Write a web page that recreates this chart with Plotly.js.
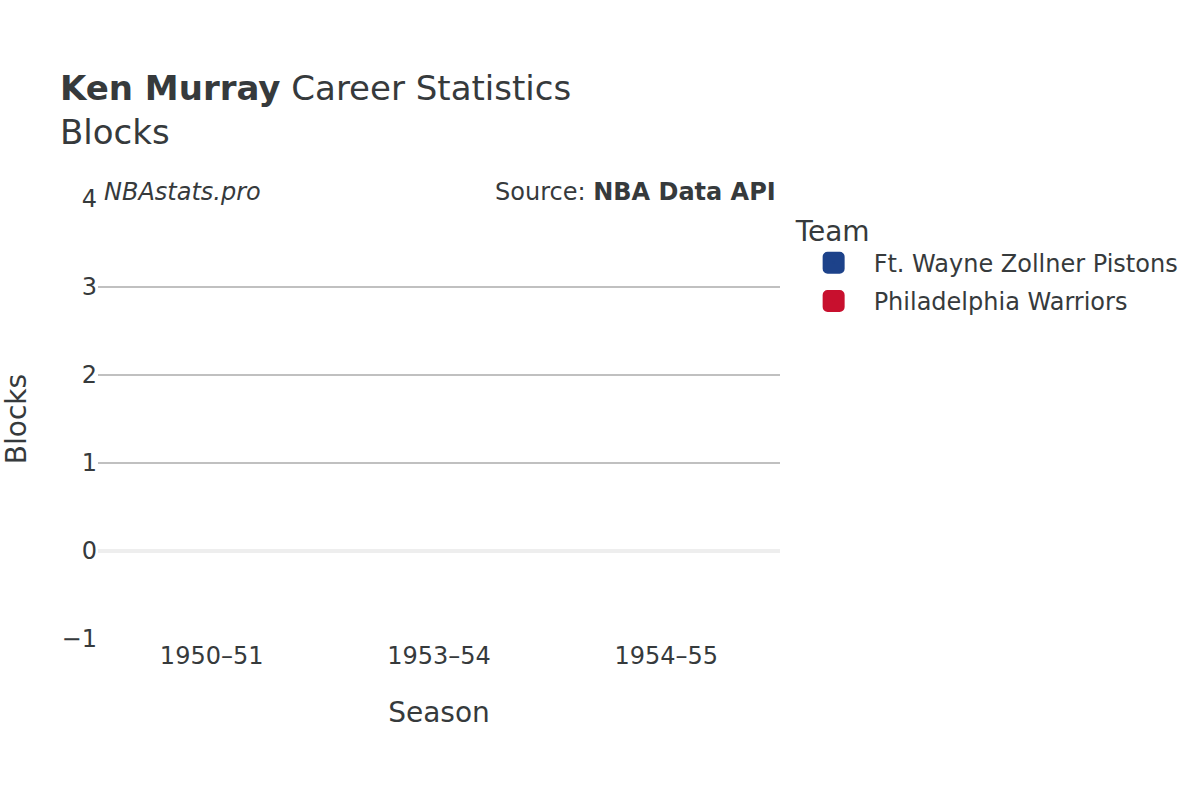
<!DOCTYPE html>
<html>
<head>
<meta charset="utf-8">
<script src="https://cdn.plot.ly/plotly-3.0.1.min.js"></script>
<style>
  html, body { margin: 0; padding: 0; background: #fff; }
  #chart { width: 1200px; height: 800px; }
  /* legend kareleri: büyük ve yuvarlak köşeli */
  .legendpoints path { stroke-width: 10px !important; stroke-linejoin: round; }
</style>
</head>
<body>
<div id="chart"></div>
<script>
"use strict";

// Sezonlar ve takımlar
const seasons = ['1950–51', '1953–54', '1954–55'];
const teamNames = ['Ft. Wayne Zollner Pistons', 'Philadelphia Warriors'];
const teamColors = ['#1d428a', '#c8102e'];

// Blok değerleri (takım başına, sezon sırasıyla)
const pistonsSeasons = ['1953–54', '1954–55'];
const pistonsBlocks = [0, 0];
const warriorsSeasons = ['1950–51'];
const warriorsBlocks = [0];

const textColor = '#363a3c';

const traces = [
    {
        x: pistonsSeasons, y: pistonsBlocks, type: 'bar', name: teamNames[0], legendgroup: 'a',
        marker: { color: teamColors[0], line: { color: teamColors[0], width: 0.01 } }
    },
    {
        x: warriorsSeasons, y: warriorsBlocks, type: 'bar', name: teamNames[1], legendgroup: 'b',
        marker: { color: teamColors[1], line: { color: teamColors[1], width: 0.01 } }
    }
];

const layout = {
    width: 1200,
    height: 800,
    paper_bgcolor: '#fff',
    plot_bgcolor: '#fff',
    font: { family: 'DejaVu Sans', color: textColor, size: 24 },
    margin: { l: 98, r: 420, t: 199, b: 161 },
    title: {
        text: '<b>Ken Murray</b> Career Statistics<br>Blocks',
        font: { size: 34, color: textColor },
        x: 0.05, xanchor: 'left',
        y: 0.875, yanchor: 'bottom'
    },
    barmode: 'group',
    xaxis: {
        type: 'category',
        categoryarray: seasons,
        categoryorder: 'array',
        title: { text: 'Season', font: { size: 28 }, standoff: 33 },
        tickfont: { size: 24 },
        showgrid: false,
        showline: false,
        zeroline: false
    },
    yaxis: {
        range: [-1, 4],
        dtick: 1,
        title: { text: 'Blocks', font: { size: 28 }, standoff: 40 },
        tickfont: { size: 24 },
        showgrid: true,
        gridcolor: '#c0c0c0',
        gridwidth: 2,
        zeroline: true,
        zerolinecolor: '#eeeeee',
        zerolinewidth: 4,
        showline: false
    },
    legend: {
        title: { text: 'Team', font: { size: 28 } },
        font: { size: 24 },
        x: 1.02, xanchor: 'left',
        y: 0.988, yanchor: 'top',
        itemwidth: 70,
        tracegroupgap: 4
    },
    annotations: [
        {
            text: '<i>NBAstats.pro</i>', xref: 'paper', yref: 'paper',
            x: 0, xshift: 4, y: 1, yshift: 7, xanchor: 'left', yanchor: 'middle',
            showarrow: false, font: { size: 24, color: textColor }
        },
        {
            text: 'Source: <b>NBA Data API</b>', xref: 'paper', yref: 'paper',
            x: 1, xshift: -2, y: 1, yshift: 7, xanchor: 'right', yanchor: 'middle',
            showarrow: false, font: { size: 24, color: textColor }
        }
    ]
};

Plotly.newPlot('chart', traces, layout, { displayModeBar: false, responsive: false });
</script>
</body>
</html>
